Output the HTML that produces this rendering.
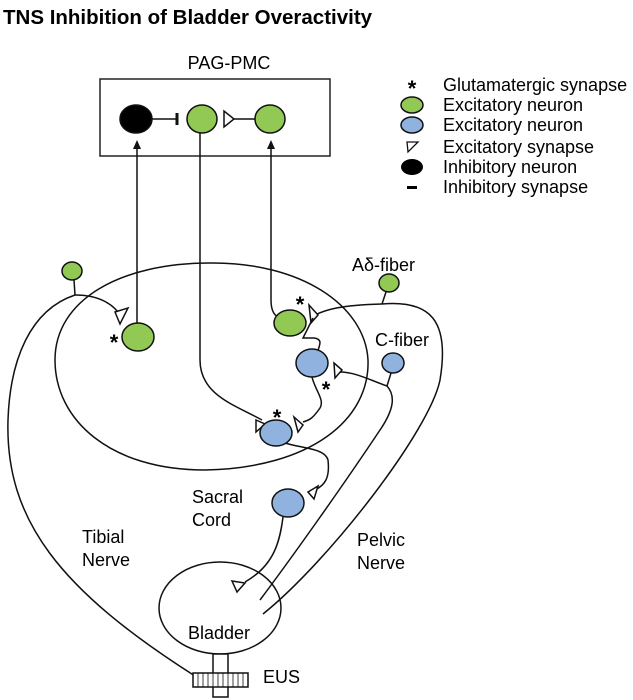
<!DOCTYPE html>
<html><head><style>
body{margin:0;background:#fff;}
svg{display:block;font-family:"Liberation Sans",Arial,sans-serif;}
</style></head><body>
<svg width="633" height="700" viewBox="0 0 633 700" xmlns="http://www.w3.org/2000/svg">
<text x="3" y="24" font-size="20.5" font-weight="bold">TNS Inhibition of Bladder Overactivity</text>
<text x="229" y="69" font-size="18" text-anchor="middle">PAG-PMC</text>
<rect x="100" y="79" width="230" height="77" fill="none" stroke="#222" stroke-width="1.5"/>
<g stroke="#111" stroke-width="1.5" fill="none">
<line x1="152" y1="119" x2="176" y2="119"/>
<line x1="177" y1="113" x2="177" y2="125" stroke-width="3"/>
<polygon points="224,111 224,127 234,119" fill="#fff"/>
<line x1="234" y1="119" x2="256" y2="119"/>
<line x1="137" y1="148" x2="137" y2="325"/>
<path d="M200,132 L200,360 C200,395 235,405 262,420"/>
<path d="M271,148 L271,300 C271,312 275,316 280,318"/>
<path d="M210,263 C300,262 365,305 368,360 C370,420 310,468 205,470 C110,470 55,420 55,360 C55,300 120,263 210,263 Z"/>
<path d="M74,280 L75,295"/>
<path d="M75,295 C30,310 10,360 8,420 C5,520 60,590 195,676"/>
<path d="M75,295 C100,295 115,305 122,318"/>
<polygon points="115,312 128,308 120,324" fill="#fff"/>
<line x1="386" y1="292" x2="382" y2="304"/>
<path d="M382,304 C340,305 325,310 315,315"/>
<polygon points="309,305 318,315 311,323" fill="#fff"/>
<path d="M313,318 L303,338 L314,338 C328,340 312,352 320,358"/>
<path d="M382,304 C430,300 450,320 440,380 C430,430 330,560 263,614"/>
<line x1="391" y1="373" x2="387" y2="386"/>
<path d="M387,386 C370,380 355,372 340,372"/>
<polygon points="334,363 342,370 335,378" fill="#fff" />
<path d="M387,386 C395,395 395,408 380,430 C340,490 290,560 260,600"/>
<path d="M312,377 C315,390 325,400 320,408 C313,418 310,420 303,422"/>
<polygon points="294,417 303,425 298,432" fill="#fff"/>
<polygon points="256,420 265,424 256,432" fill="#fff"/>
<path d="M285,443 C300,448 325,448 328,460 C330,478 325,485 315,490"/>
<polygon points="308,492 318,486 314,499" fill="#fff"/>
<path d="M283,517 C280,540 275,565 245,582"/>
<polygon points="232,581 245,583 237,592" fill="#fff"/>
<ellipse cx="220" cy="608" rx="61" ry="46"/>
<rect x="213" y="654" width="15" height="43" fill="#fff"/>
<rect x="193" y="673" width="55" height="14" fill="#fff"/>
</g>
<g stroke="#111" stroke-width="0.8">
<line x1="198" y1="673" x2="198" y2="687"/><line x1="203" y1="673" x2="203" y2="687"/><line x1="208" y1="673" x2="208" y2="687"/><line x1="213" y1="673" x2="213" y2="687"/><line x1="218" y1="673" x2="218" y2="687"/><line x1="223" y1="673" x2="223" y2="687"/><line x1="228" y1="673" x2="228" y2="687"/><line x1="233" y1="673" x2="233" y2="687"/><line x1="238" y1="673" x2="238" y2="687"/><line x1="243" y1="673" x2="243" y2="687"/>
</g>
<polygon points="137,140 133,149 141,149" fill="#111"/>
<polygon points="271,140 267,149 275,149" fill="#111"/>
<g stroke="#111" stroke-width="1.5">
<ellipse cx="136" cy="119" rx="16" ry="14" fill="#000"/>
<ellipse cx="202" cy="119" rx="15" ry="14" fill="#92c955"/>
<ellipse cx="270" cy="119" rx="15" ry="14" fill="#92c955"/>
<ellipse cx="72" cy="271" rx="10" ry="9" fill="#92c955"/>
<ellipse cx="138" cy="337" rx="16" ry="14" fill="#92c955"/>
<ellipse cx="290" cy="323" rx="16" ry="13" fill="#92c955"/>
<ellipse cx="389" cy="283" rx="10" ry="9" fill="#92c955"/>
<ellipse cx="312" cy="363" rx="16" ry="14" fill="#8fb3de"/>
<ellipse cx="393" cy="363" rx="11" ry="10" fill="#8fb3de"/>
<ellipse cx="276" cy="433" rx="16" ry="13" fill="#8fb3de"/>
<ellipse cx="288" cy="503" rx="16" ry="14" fill="#8fb3de"/>
</g>
<g font-size="22" font-weight="bold" text-anchor="middle">
<text x="114" y="350">*</text>
<text x="300" y="312">*</text>
<text x="326" y="397">*</text>
<text x="277" y="425">*</text>
</g>
<g font-size="18">
<text x="352" y="271">Aδ-fiber</text>
<text x="375" y="346">C-fiber</text>
<text x="192" y="503">Sacral</text>
<text x="192" y="526">Cord</text>
<text x="82" y="543">Tibial</text>
<text x="82" y="566">Nerve</text>
<text x="357" y="546">Pelvic</text>
<text x="357" y="569">Nerve</text>
<text x="188" y="639">Bladder</text>
<text x="263" y="683">EUS</text>
</g>
<g font-size="18">
<text x="443" y="91">Glutamatergic synapse</text>
<text x="443" y="111">Excitatory neuron</text>
<text x="443" y="131">Excitatory neuron</text>
<text x="443" y="153">Excitatory synapse</text>
<text x="443" y="173">Inhibitory neuron</text>
<text x="443" y="193">Inhibitory synapse</text>
</g>
<text x="412" y="96" font-size="22" font-weight="bold" text-anchor="middle">*</text>
<ellipse cx="412" cy="105" rx="11" ry="8" fill="#92c955" stroke="#111" stroke-width="1.5"/>
<ellipse cx="412" cy="125" rx="11" ry="8" fill="#8fb3de" stroke="#111" stroke-width="1.5"/>
<polygon points="407,142 418,142 408,152" fill="#fff" stroke="#111" stroke-width="1.3"/>
<ellipse cx="412" cy="167" rx="11" ry="8" fill="#000"/>
<rect x="407" y="186" width="10" height="3" fill="#000"/>
</svg>
</body></html>
